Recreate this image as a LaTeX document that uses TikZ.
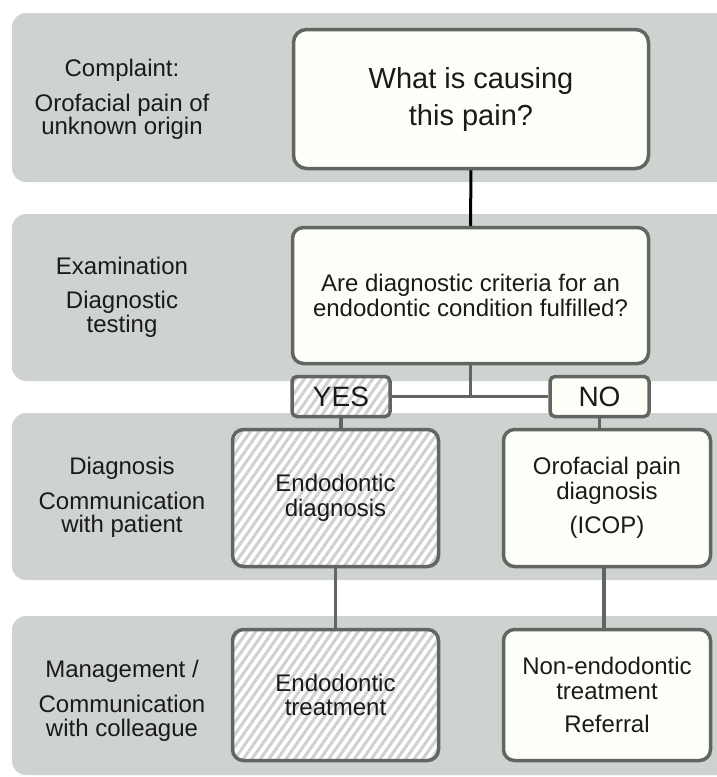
\documentclass[tikz,border=0pt]{standalone}
\usepackage{fontspec}
\setmainfont{Liberation Sans}
\usetikzlibrary{patterns.meta}
\definecolor{bandcol}{HTML}{CED3CF}
\definecolor{boxfill}{HTML}{FEFEF8}
\definecolor{bordercol}{HTML}{626662}
\definecolor{hatchcol}{HTML}{D0D0D0}
\definecolor{txtcol}{HTML}{1A1A1A}
\tikzset{
  band/.style={fill=bandcol, draw=none, rounded corners=14pt},
  boxbase/.style={draw=bordercol, line width=3.5pt, align=center, text=txtcol, inner sep=2pt},
  plainbox/.style={boxbase, fill=boxfill},
  hatchbox/.style={boxbase, preaction={fill=white},
     pattern={Lines[angle=55,distance=7pt,line width=3pt]}, pattern color=hatchcol},
  bigbox/.style={rounded corners=13pt},
  midbox/.style={rounded corners=11pt},
  smallbox/.style={rounded corners=5pt},
  lbl/.style={align=center, text=txtcol, font=\fontsize{24}{23.5}\selectfont},
  boxtxt/.style={font=\fontsize{24}{24.5}\selectfont},
  conn/.style={draw=bordercol, line width=3.5pt},
  connblack/.style={draw=black, line width=3pt}
}
\begin{document}
\begin{tikzpicture}[x=1pt,y=-1pt]
\useasboundingbox (0,0) rectangle (716,777);
\fill[white] (0,0) rectangle (716,777);
% bands
\path[band] (12,13) rectangle (740,182);
\path[band] (12,214) rectangle (740,381);
\path[band] (12,413) rectangle (740,580);
\path[band] (12,616) rectangle (740,775);
% left labels
\node[lbl] (l1) at (122,99.5) {Complaint:\\[11pt]Orofacial pain of\\unknown origin};
\node[lbl] (l2) at (122,297) {Examination\\[11pt]Diagnostic\\testing};
\node[lbl] (l3) at (122,497.5) {Diagnosis\\[11pt]Communication\\with patient};
\node[lbl] (l4) at (122,700.5) {Management /\\[12pt]Communication\\with colleague};
% boxes
\node[plainbox, bigbox, minimum width=355pt, minimum height=139pt,
      font=\fontsize{29}{37}\selectfont] (q1) at (471,99) {What is causing\\this pain?};
\node[plainbox, midbox, boxtxt, minimum width=356pt, minimum height=136pt] (q2) at (470.5,295.5) {Are diagnostic criteria for an\\endodontic condition fulfilled?};
\node[hatchbox, smallbox, minimum width=98pt, minimum height=40pt,
      font=\fontsize{28}{30}\selectfont] (yes) at (341,396.5) {YES};
\node[plainbox, smallbox, minimum width=99pt, minimum height=40pt,
      font=\fontsize{28}{30}\selectfont] (no) at (599.5,396.5) {NO};
\node[hatchbox, midbox, boxtxt, minimum width=206pt, minimum height=137pt] (ed) at (335.5,498) {Endodontic\\diagnosis};
\node[plainbox, midbox, boxtxt, minimum width=207pt, minimum height=137pt] (op) at (607,498) {Orofacial pain\\diagnosis\\[10pt](ICOP)};
\node[hatchbox, midbox, boxtxt, minimum width=206pt, minimum height=131pt] (et) at (335.5,695) {Endodontic\\treatment};
\node[plainbox, midbox, boxtxt, minimum width=207pt, minimum height=131pt] (ne) at (607,695) {Non-endodontic\\treatment\\[9pt]Referral};
% connectors
\coordinate (j) at (q2.south |- yes.east);
\draw[connblack] (q1.south) -- (q2.north);
\draw[conn] (q2.south) -- (j);
\draw[conn] (yes.east) -- (no.west);
\draw[conn] (yes.south) -- (yes.south |- ed.north);
\draw[conn] (no.south) -- (no.south |- op.north);
\draw[conn] (ed.south) -- (et.north);
\draw[conn] ([xshift=-3pt]op.south) -- ([xshift=-3pt]ne.north);
\end{tikzpicture}
\end{document}
